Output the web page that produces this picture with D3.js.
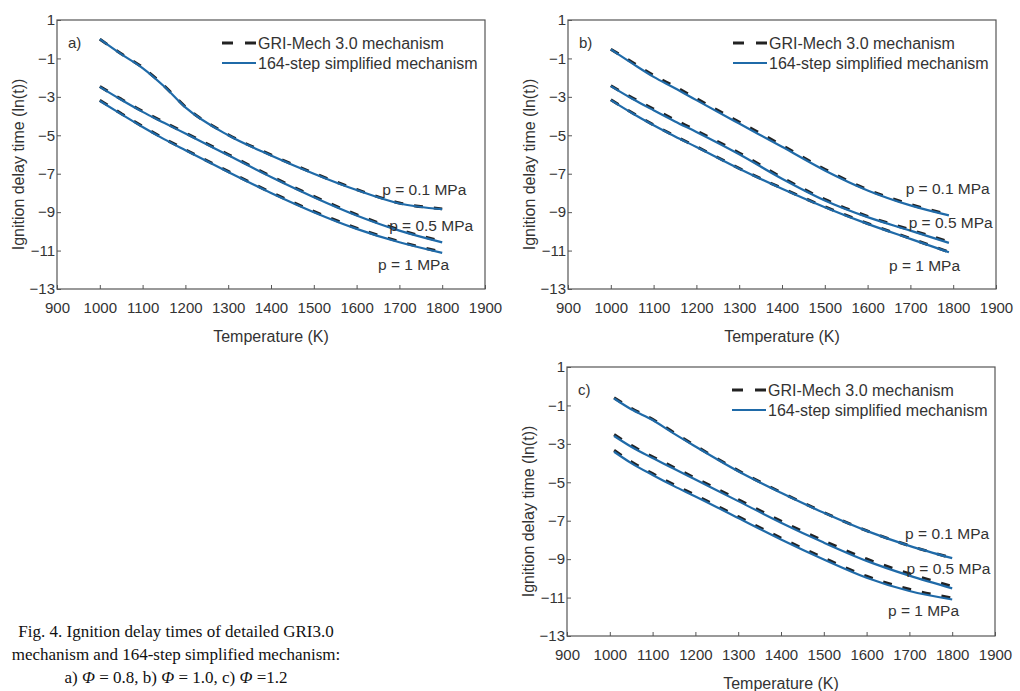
<!DOCTYPE html>
<html>
<head>
<meta charset="utf-8">
<script src="https://cdn.jsdelivr.net/npm/d3@7"></script>
<style>
  body { margin: 0; background: #fff; }
  text { font-family: "Liberation Sans", Arial, sans-serif; fill: #333; }
  .caption { font-family: "Liberation Serif", "Times New Roman", serif; fill: #111; }
</style>
</head>
<body>
<script>
// ---- data (ln of ignition delay time vs temperature) ----
var xTicks = [900, 1000, 1100, 1200, 1300, 1400, 1500, 1600, 1700, 1800, 1900];
var yTicks = [1, -1, -3, -5, -7, -9, -11, -13];
var pressures = ["p = 0.1 MPa", "p = 0.5 MPa", "p = 1 MPa"];

// panel a) phi = 0.8
var tempA = [1000, 1050, 1100, 1150, 1200, 1300, 1400, 1500, 1600, 1700, 1800];
var simA01 = [0.0, -0.78, -1.5, -2.45, -3.55, -5.0, -6.05, -7.0, -7.85, -8.55, -8.85];
var simA05 = [-2.48, -3.15, -3.78, -4.35, -4.91, -6.04, -7.17, -8.22, -9.17, -9.96, -10.57];
var simA1  = [-3.21, -3.9, -4.57, -5.2, -5.78, -6.91, -8.0, -9.0, -9.87, -10.57, -11.12];
var griA01 = [0.0, -0.76, -1.47, -2.42, -3.52, -4.97, -6.02, -6.97, -7.82, -8.52, -8.83];
var griA05 = [-2.46, -3.12, -3.75, -4.32, -4.88, -6.0, -7.13, -8.18, -9.13, -9.92, -10.53];
var griA1  = [-3.18, -3.87, -4.54, -5.17, -5.75, -6.88, -7.97, -8.96, -9.83, -10.53, -11.08];

// panel b) phi = 1.0
var tempB = [1000, 1050, 1100, 1150, 1200, 1300, 1400, 1500, 1600, 1700, 1790];
var simB01 = [-0.53, -1.26, -1.96, -2.55, -3.17, -4.39, -5.6, -6.83, -7.87, -8.65, -9.17];
var simB05 = [-2.44, -3.1, -3.7, -4.28, -4.83, -5.99, -7.26, -8.39, -9.26, -9.96, -10.6];
var simB1  = [-3.17, -3.85, -4.48, -5.06, -5.61, -6.74, -7.78, -8.74, -9.61, -10.39, -11.09];
var griB01 = [-0.52, -1.2, -1.88, -2.47, -3.09, -4.31, -5.52, -6.77, -7.83, -8.6, -9.12];
var griB05 = [-2.42, -3.05, -3.63, -4.2, -4.76, -5.92, -7.2, -8.34, -9.22, -9.92, -10.54];
var griB1  = [-3.15, -3.83, -4.46, -5.04, -5.59, -6.72, -7.76, -8.72, -9.59, -10.37, -11.07];

// panel c) phi = 1.2
var tempC = [1010, 1050, 1100, 1150, 1200, 1300, 1400, 1500, 1600, 1700, 1800];
var simC01 = [-0.64, -1.2, -1.76, -2.47, -3.14, -4.43, -5.55, -6.59, -7.53, -8.31, -8.95];
var simC05 = [-2.59, -3.15, -3.74, -4.3, -4.86, -5.98, -7.1, -8.14, -9.09, -9.86, -10.52];
var simC1  = [-3.41, -4.0, -4.62, -5.2, -5.74, -6.86, -7.98, -9.02, -9.97, -10.66, -11.1];
var griC01 = [-0.6, -1.15, -1.72, -2.42, -3.1, -4.39, -5.52, -6.57, -7.52, -8.3, -8.94];
var griC05 = [-2.52, -3.08, -3.67, -4.23, -4.79, -5.9, -7.02, -8.05, -8.99, -9.76, -10.42];
var griC1  = [-3.33, -3.93, -4.55, -5.13, -5.67, -6.79, -7.9, -8.94, -9.89, -10.57, -11.02];

// where the pressure labels sit, in data units (T, ln t) per panel
var labelT = [[1660, 1676, 1650], [1689, 1696, 1650], [1690, 1693, 1650]];
var labelV = [[-8.1, -9.97, -12.0], [-8.04, -9.8, -12.05], [-7.97, -9.78, -11.96]];

var panels = [
  {name: "a)", left: 57,  top: 20,  temps: tempA, sim: [simA01, simA05, simA1], gri: [griA01, griA05, griA1], lt: labelT[0], lv: labelV[0]},
  {name: "b)", left: 568, top: 20,  temps: tempB, sim: [simB01, simB05, simB1], gri: [griB01, griB05, griB1], lt: labelT[1], lv: labelV[1]},
  {name: "c)", left: 567, top: 367, temps: tempC, sim: [simC01, simC05, simC1], gri: [griC01, griC05, griC1], lt: labelT[2], lv: labelV[2]}
];

var W = 1020, H = 691;
var plotW = 428, plotH = 269;
var blue = "#1f6aa8";

var svg = d3.select("body").append("svg")
    .attr("width", W)
    .attr("height", H);

panels.forEach(function(p) {
  var g = svg.append("g").attr("transform", "translate(" + p.left + "," + p.top + ")");

  var x = d3.scaleLinear().domain([900, 1900]).range([0, plotW]);
  var y = d3.scaleLinear().domain([-13, 1]).range([plotH, 0]);

  //axes with inward ticks, frame drawn separately
  var xa = g.append("g")
      .attr("transform", "translate(0," + plotH + ")")
      .call(d3.axisBottom(x).tickValues(xTicks).tickFormat(d3.format("d"))
            .tickSizeInner(-4).tickSizeOuter(0).tickPadding(13));
  var ya = g.append("g")
      .call(d3.axisLeft(y).tickValues(yTicks).tickSizeInner(-4).tickSizeOuter(0).tickPadding(2));
  [xa, ya].forEach(function(a) {
    a.select(".domain").remove();
    a.selectAll("line").attr("stroke", "#555");
    a.selectAll("text").attr("font-size", 15).style("font-family", "'Liberation Sans', Arial, sans-serif").attr("fill", "#333");
  });

  g.append("rect")
      .attr("width", plotW)
      .attr("height", plotH)
      .attr("fill", "none")
      .attr("stroke", "#555")
      .attr("stroke-width", 1.2);

  var line = d3.line()
      .x(function(d) { return x(d[0]); })
      .y(function(d) { return y(d[1]); })
      .curve(d3.curveMonotoneX);

  //dashed GRI-Mech first, blue simplified over it
  p.gri.forEach(function(s) {
    g.append("path")
        .datum(p.temps.map(function(t, i) { return [t, s[i]]; }))
        .attr("d", line)
        .attr("fill", "none")
        .attr("stroke", "#222")
        .attr("stroke-width", 3)
        .attr("stroke-dasharray", "9,11");
  });
  p.sim.forEach(function(s) {
    g.append("path")
        .datum(p.temps.map(function(t, i) { return [t, s[i]]; }))
        .attr("d", line)
        .attr("fill", "none")
        .attr("stroke", blue)
        .attr("stroke-width", 2.2);
  });

  pressures.forEach(function(lab, i) {
    g.append("text")
        .attr("x", x(p.lt[i]))
        .attr("y", y(p.lv[i]))
        .attr("font-size", 15.5)
        .text(lab);
  });

  // panel letter
  g.append("text").attr("x", 11).attr("y", 28).attr("font-size", 15).text(p.name);

  // legend
  var lg = g.append("g").attr("transform", "translate(165,23)");
  lg.append("line").attr("x1", 0).attr("x2", 34).attr("y1", 0).attr("y2", 0)
      .attr("stroke", "#222").attr("stroke-width", 3).attr("stroke-dasharray", "11,12");
  lg.append("text").attr("x", 36).attr("y", 5.5).attr("font-size", 16).text("GRI-Mech 3.0 mechanism");
  lg.append("line").attr("x1", 0).attr("x2", 34).attr("y1", 20).attr("y2", 20)
      .attr("stroke", blue).attr("stroke-width", 2.2);
  lg.append("text").attr("x", 36).attr("y", 25.5).attr("font-size", 16).text("164-step simplified mechanism");

  // axis titles
  g.append("text")
      .attr("x", plotW / 2)
      .attr("y", plotH + 53)
      .attr("text-anchor", "middle")
      .attr("font-size", 16)
      .text("Temperature (K)");
  g.append("text")
      .attr("transform", "translate(-33," + (plotH / 2 + 10) + ") rotate(-90)")
      .attr("text-anchor", "middle")
      .attr("font-size", 16)
      .text("Ignition delay time (ln(t))");
});

// figure caption
var capX = 176;
var cap = svg.append("text").attr("class", "caption").attr("text-anchor", "middle").attr("font-size", 17);
cap.append("tspan").attr("x", capX).attr("y", 637).text("Fig. 4. Ignition delay times of detailed GRI3.0");
cap.append("tspan").attr("x", capX).attr("y", 660).text("mechanism and 164-step simplified mechanism:");
var l3 = cap.append("tspan").attr("x", capX).attr("y", 683);
l3.append("tspan").text("a) ");
l3.append("tspan").attr("font-style", "italic").text("\u03A6");
l3.append("tspan").text(" = 0.8, b) ");
l3.append("tspan").attr("font-style", "italic").text("\u03A6");
l3.append("tspan").text(" = 1.0, c) ");
l3.append("tspan").attr("font-style", "italic").text("\u03A6");
l3.append("tspan").text(" =1.2");
</script>
</body>
</html>
